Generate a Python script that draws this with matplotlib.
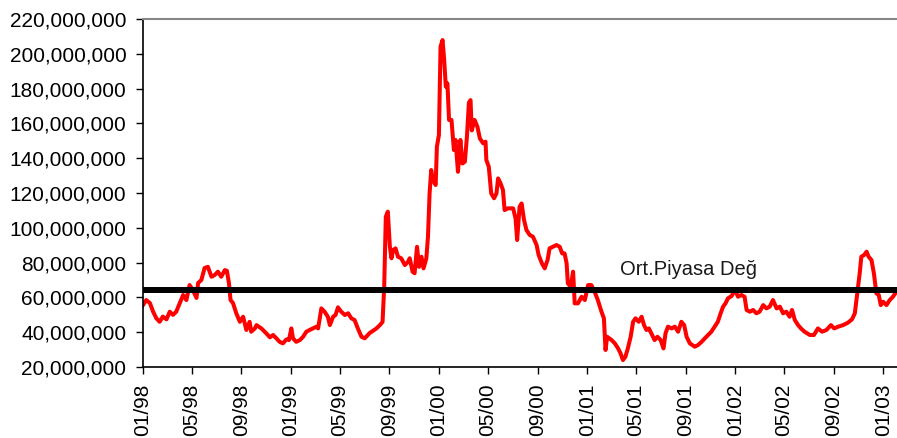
import matplotlib
matplotlib.use("Agg")
import matplotlib.pyplot as plt
import matplotlib.ticker as mticker
import pandas as pd

plt.rcParams['font.family'] = ['Liberation Sans', 'DejaVu Sans']

# days since 1998-01-01 and market value (millions)
day_offsets = [
    0, 8, 17, 25, 33, 41, 49, 58, 66, 74, 82, 91, 99, 107, 115, 123, 132, 136, 144, 152,
    160, 169, 177, 185, 193, 202, 207, 212, 216, 222, 230, 239, 247, 255, 263, 267, 276,
    280, 292, 304, 313, 321, 329, 337, 345, 354, 360, 366, 370, 378, 387, 395, 403, 411,
    419, 428, 432, 436, 440, 448, 456, 461, 469, 475, 481, 489, 498, 506, 514, 522, 530,
    539, 547, 559, 576, 586, 591, 595, 599, 604, 609, 613, 617, 623, 629, 637, 646, 654,
    658, 665, 670, 676, 681, 687, 692, 699, 703, 707, 711, 715, 722, 725, 730, 734, 739,
    743, 747, 751, 755, 761, 767, 771, 777, 783, 788, 794, 799, 804, 808, 811, 818, 825,
    831, 839, 845, 847, 853, 859, 866, 872, 876, 882, 888, 892, 900, 913, 919, 923, 929,
    934, 940, 946, 954, 962, 971, 976, 984, 991, 998, 1003, 1011, 1020, 1028, 1034, 1040,
    1045, 1048, 1055, 1061, 1065, 1073, 1082, 1090, 1098, 1106, 1114, 1122, 1131, 1137,
    1141, 1145, 1156, 1164, 1172, 1178, 1184, 1190, 1196, 1203, 1209, 1215, 1223, 1230,
    1236, 1242, 1248, 1256, 1262, 1269, 1277, 1284, 1289, 1295, 1304, 1312, 1320, 1328,
    1335, 1341, 1349, 1361, 1369, 1378, 1386, 1394, 1402, 1410, 1418, 1425, 1431, 1437,
    1443, 1452, 1460, 1468, 1476, 1484, 1489, 1497, 1505, 1513, 1521, 1530, 1538, 1546,
    1554, 1563, 1571, 1579, 1587, 1595, 1601, 1608, 1616, 1623, 1632, 1645, 1655, 1665,
    1675, 1686, 1697, 1705, 1715, 1727, 1739, 1749, 1756, 1762, 1768, 1772, 1779, 1785,
    1790, 1797, 1803, 1809, 1815, 1820, 1826, 1834, 1842, 1850, 1856,
]
market_value_m = [
    55.6, 58.5, 56.8, 51.8, 48.0, 46.0, 49.0, 47.4, 51.8, 50.0, 51.8, 56.8, 61.4, 58.5,
    67.1, 64.3, 59.7, 68.3, 70.0, 76.9, 77.6, 71.9, 72.9, 74.8, 71.9, 75.7, 75.3, 68.3,
    58.5, 56.8, 51.0, 46.0, 48.9, 41.3, 46.0, 40.3, 42.2,
    44.1, 42.2, 39.4, 37.1, 38.4, 36.5, 34.5, 33.6, 35.9, 35.5, 42.2, 36.5, 34.5, 35.5,
    37.4, 40.3, 41.3, 42.2, 43.2, 42.2, 48.0, 53.7, 51.8, 48.9, 44.1, 48.9, 49.9, 54.3,
    51.8, 49.9, 50.9, 48.0, 47.0, 42.2, 37.4, 36.5,
    39.5, 42.2, 44.5, 46.0, 66.0, 106.4, 109.3, 89.1, 82.5, 87.2, 88.2, 83.4, 82.5, 78.6,
    80.5, 82.5, 74.8, 73.9, 89.1, 77.6, 83.4, 76.7, 82.5, 94.9, 119.8, 133.2, 127.5,
    124.6, 146.6, 153.3, 204.1, 207.9, 196.4, 181.1, 183.0, 162.0, 162.0, 144.7, 150.5,
    132.2, 150.5, 137.0, 138.0, 152.0, 172.0, 173.4, 156.0, 162.0, 158.0, 151.4, 148.6,
    149.5, 139.0, 135.1, 119.8, 117.0, 119.8, 128.4, 125.6, 121.7, 110.2, 111.2, 111.2,
    105.5, 93.0, 112.1, 114.0, 104.5, 98.7, 95.9, 94.9, 90.1, 84.4, 79.6, 76.7, 81.5,
    88.2, 89.1, 90.1, 89.1, 85.3, 85.3, 79.6, 68.1, 66.1, 74.8, 56.6, 56.6, 60.4, 58.5,
    67.1, 67.1, 63.3, 58.5, 51.8, 48.0, 29.8, 37.4, 35.5, 33.6, 30.7, 27.9, 24.0, 25.9,
    30.7, 37.4, 46.0, 48.0, 46.0, 48.9, 44.1, 41.3, 42.2, 38.4, 35.5, 37.4, 35.5, 30.7,
    39.4, 43.2, 42.2, 43.2, 40.3, 46.0, 44.1, 37.4, 33.6, 31.7, 32.6, 34.5, 36.5, 38.4,
    40.3, 43.2, 46.0, 50.9, 54.7, 56.6, 59.5, 60.8, 64.3, 60.4, 61.4, 60.4, 52.8, 51.8,
    52.8, 50.9, 51.8, 55.6, 53.7, 54.7, 58.5, 53.7, 54.7, 50.9, 51.8, 48.9, 52.8, 47.0,
    44.1, 42.2, 40.3, 38.4, 38.4, 42.2, 40.3, 41.3, 44.1, 42.2, 43.2, 44.1, 45.5, 47.4,
    50.9, 62.4, 73.9, 83.4, 84.4, 86.3, 83.4, 81.5, 73.9, 62.4, 61.4, 55.6, 57.5, 55.6,
    58.5, 60.4, 62.4,
]
average_value_m = 64.5
average_label = "Ort.Piyasa Değ"
label_day = 1176
label_value_m = 72.9

tick_dates = ["1998-01-01", "1998-05-01", "1998-09-01", "1999-01-01", "1999-05-01",
              "1999-09-01", "2000-01-01", "2000-05-01", "2000-09-01", "2001-01-01",
              "2001-05-01", "2001-09-01", "2002-01-01", "2002-05-01", "2002-09-01",
              "2003-01-01"]
tick_labels = ["01/98", "05/98", "09/98", "01/99", "05/99", "09/99", "01/00", "05/00",
               "09/00", "01/01", "05/01", "09/01", "01/02", "05/02", "09/02", "01/03"]
y_ticks_m = [20, 40, 60, 80, 100, 120, 140, 160, 180, 200, 220]

start = pd.Timestamp("1998-01-01")
dates = start + pd.to_timedelta(day_offsets, unit="D")
values = [v * 1e6 for v in market_value_m]

fig = plt.figure(figsize=(8.97, 4.38), dpi=100)
ax = fig.add_axes([0.1594, 0.162, 0.8406, 0.7946])

ax.plot(dates, values, color="#FF0000", lw=2.9, solid_joinstyle="round", zorder=2)
ax.axhline(average_value_m * 1e6, color="black", lw=4.3, zorder=3)
ax.text(start + pd.Timedelta(days=label_day), label_value_m * 1e6, average_label,
        fontsize=14.5, color="#1a1a1a", ha="left", va="baseline")

ax.set_xlim(start, start + pd.Timedelta(days=1860))
ax.set_ylim(y_ticks_m[0] * 1e6, y_ticks_m[-1] * 1e6)
ax.set_yticks([v * 1e6 for v in y_ticks_m])
ax.yaxis.set_major_formatter(mticker.FuncFormatter(lambda x, p: f"{x:,.0f}"))
ax.set_xticks(pd.to_datetime(tick_dates))
ax.set_xticklabels(tick_labels, rotation=90)

ax.tick_params(axis="both", direction="out", length=5, width=1, colors="black",
               labelsize=15, pad=7)
for s in ("left", "bottom"):
    ax.spines[s].set_color("black")
    ax.spines[s].set_linewidth(1.2)
ax.spines["top"].set_color("#888888")
ax.spines["top"].set_linewidth(1.5)
ax.spines["right"].set_visible(False)

fig.savefig("out.png", dpi=100)
